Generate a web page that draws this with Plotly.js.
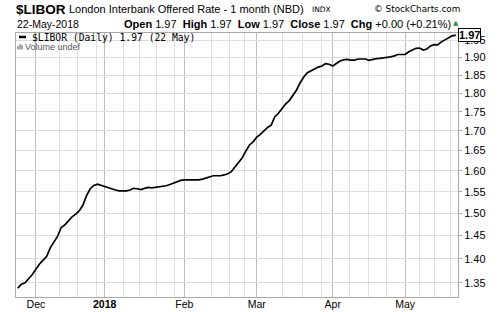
<!DOCTYPE html>
<html><head><meta charset="utf-8">
<script src="https://cdn.plot.ly/plotly-3.0.1.min.js"></script>
<style>html,body{margin:0;padding:0;background:#fff;}#chart{width:500px;height:312px;}</style>
</head><body><div id="chart"></div>
<script>
// ---- data (one point per trading day, 24-Nov-2017 .. 22-May-2018) ----
const values = [
1.339,1.347,1.350,1.358,1.367,1.378,1.389,1.397,1.405,1.424,
1.437,1.449,1.468,1.474,1.483,1.492,1.498,1.506,1.519,1.541,
1.557,1.565,1.568,1.565,1.563,1.559,1.557,1.554,1.552,1.552,
1.552,1.554,1.558,1.557,1.555,1.558,1.560,1.559,1.560,1.562,
1.562,1.564,1.567,1.570,1.573,1.577,1.578,1.578,1.578,1.578,
1.578,1.580,1.583,1.586,1.588,1.588,1.588,1.590,1.593,1.598,
1.609,1.623,1.632,1.649,1.664,1.672,1.684,1.691,1.700,1.709,
1.715,1.737,1.746,1.759,1.771,1.780,1.793,1.809,1.829,1.845,
1.857,1.863,1.868,1.873,1.876,1.883,1.881,1.876,1.883,1.890,
1.894,1.895,1.893,1.893,1.896,1.896,1.896,1.892,1.895,1.897,
1.898,1.899,1.900,1.902,1.905,1.909,1.909,1.909,1.917,1.923,
1.927,1.928,1.922,1.925,1.934,1.938,1.937,1.946,1.952,1.958,
1.964,1.966];
const monthTickIdx  = [5, 24, 46, 66, 87, 107];
const monthTickText = ['Dec', '<b>2018</b>', 'Feb', 'Mar', 'Apr', 'May'];
const weekGridIdx   = [11.4, 16.4, 21.8, 29.1, 33.7, 38.3, 43.4, 53.5, 58.6, 62.7, 73.1, 78.6, 83.8, 91.7, 96.8, 101.9, 111.1, 115.2, 119.4];
const yTickVals     = [1.35,1.40,1.45,1.50,1.55,1.60,1.65,1.70,1.75,1.80,1.85,1.90,1.95];
const symbol   = '$LIBOR';
const fullName = 'London Interbank Offered Rate - 1 month (NBD)';
const exchange = 'INDX';
const dateText = '22-May-2018';
const ohlc = {open:'1.97', high:'1.97', low:'1.97', close:'1.97', chg:'+0.00', pct:'(+0.21%)'};
const legendText = '$LIBOR (Daily) 1.97 (22 May)';
const volumeText = 'Volume undef';

// ---- layout helpers (pixel -> paper) ----
const L = 16, R = 458, T = 33, B = 297;
const px = p => (p - L) / (R - L);
const py = p => (B - p) / (B - T);
const xs = values.map((v, i) => i);
const last = values[values.length - 1];

const SANS = 'Liberation Sans, Arial, sans-serif';
const ann = (x, y, text, opts) => Object.assign({
  xref: 'paper', yref: 'paper', x: px(x), y: py(y), text: text, showarrow: false,
  xanchor: 'left', yanchor: 'middle', font: {family: SANS, size: 11, color: '#000'}
}, opts || {});

const traces = [
  {x: xs, y: values, type: 'scatter', mode: 'lines', line: {color: '#000', width: 1.7}, hoverinfo: 'skip'}
];

const layout = {
  width: 500, height: 312,
  margin: {l: L, r: 500 - R, t: T, b: 312 - B, pad: 0},
  paper_bgcolor: '#fff', plot_bgcolor: '#fff', showlegend: false,
  font: {family: SANS, size: 11, color: '#000'},
  xaxis: {
    range: [-0.5, 121.6], tickmode: 'array', tickvals: monthTickIdx, ticktext: monthTickText,
    showgrid: true, gridcolor: '#bdbdbd', gridwidth: 1, zeroline: false,
    showline: true, linecolor: '#a8a8a8', linewidth: 1, mirror: true, ticks: '',
    ticklabelstandoff: -3,
    tickfont: {family: SANS, size: 10.5, color: '#000'},
    minor: {tickmode: 'array', tickvals: weekGridIdx, ticks: '', showgrid: true, gridcolor: '#e0e0e0', gridwidth: 1}
  },
  yaxis: {
    type: 'log', side: 'right', range: [0.1209, 0.2950], tickmode: 'array',
    tickvals: yTickVals, ticktext: yTickVals.map(v => v.toFixed(2)),
    showgrid: true, gridcolor: '#dcdcdc', gridwidth: 1, zeroline: false,
    showline: true, linecolor: '#a8a8a8', linewidth: 1, mirror: true,
    ticks: 'outside', ticklen: 3, tickcolor: '#a8a8a8',
    tickfont: {family: SANS, size: 11, color: '#000'}
  },
  annotations: [
    ann(14, 9, '<b>' + symbol + '</b>', {font: {family: SANS, size: 13.5, color: '#000'}}),
    ann(67, 9.5, fullName, {font: {family: SANS, size: 11, color: '#000'}}),
    ann(310, 10, exchange, {font: {family: 'DejaVu Sans, sans-serif', size: 7.5, color: '#000'}}),
    ann(372, 9.5, '\u00A9 StockCharts.com', {font: {family: 'DejaVu Sans, sans-serif', size: 8.8, color: '#000'}}),
    ann(15, 23.5, dateText, {font: {family: SANS, size: 10.5, color: '#000'}}),
    ann(122, 23.5, '<b>Open</b> ' + ohlc.open + '  <b>High</b> ' + ohlc.high + '  <b>Low</b> ' + ohlc.low +
        '  <b>Close</b> ' + ohlc.close + '  <b>Chg</b> ' + ohlc.chg + ' ' + ohlc.pct,
        {font: {family: SANS, size: 11, color: '#000'}}),
    ann(451, 23, '\u25B2', {font: {family: 'DejaVu Sans, sans-serif', size: 7, color: '#2f8f2f'}}),
    ann(30, 37, legendText, {font: {family: 'DejaVu Sans Mono, monospace', size: 9.7, color: '#000'}}),
    ann(23, 47, volumeText, {font: {family: SANS, size: 9, color: '#555'}}),
    {xref: 'paper', yref: 'y', x: 1, y: Math.log10(last), text: '<b>' + last.toFixed(2) + '</b>',
     showarrow: false, xanchor: 'left', yanchor: 'middle', xshift: 0,
     bgcolor: '#fff', bordercolor: '#000', borderwidth: 1, borderpad: 0,
     font: {family: SANS, size: 11, color: '#000'}}
  ],
  shapes: [
    {type: 'line', xref: 'paper', yref: 'paper', x0: px(19), x1: px(26), y0: py(37), y1: py(37), line: {color: '#000', width: 2.5}},
    {type: 'rect', xref: 'paper', yref: 'paper', x0: px(17.5), x1: px(18.5), y0: py(49.5), y1: py(46), fillcolor: '#555', line: {width: 0}},
    {type: 'rect', xref: 'paper', yref: 'paper', x0: px(19.5), x1: px(20.5), y0: py(49.5), y1: py(44), fillcolor: '#555', line: {width: 0}},
    {type: 'rect', xref: 'paper', yref: 'paper', x0: px(21.5), x1: px(22.5), y0: py(49.5), y1: py(45), fillcolor: '#555', line: {width: 0}}
  ]
};

Plotly.newPlot('chart', traces, layout, {staticPlot: true, displayModeBar: false});
</script>
</body></html>
